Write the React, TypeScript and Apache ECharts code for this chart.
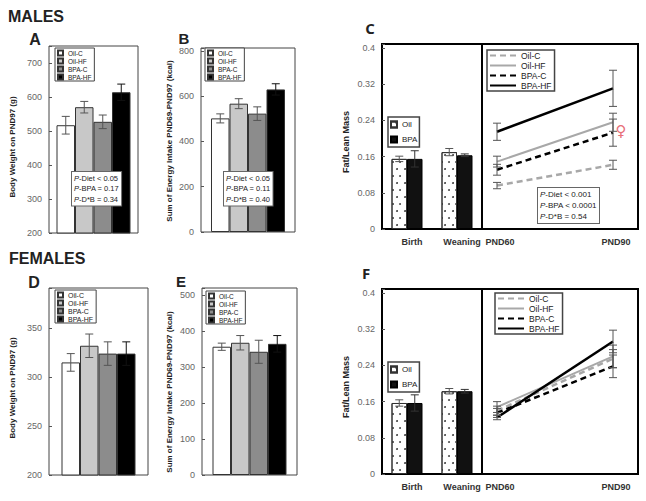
import React, { useEffect, useRef } from 'react';
import * as echarts from 'echarts';

const FONT = '"Liberation Sans", Arial, sans-serif';

// ---------- data ----------
const groups = ['Oil-C', 'Oil-HF', 'BPA-C', 'BPA-HF'];
const maleBodyWeight = [517, 570, 527, 614];
const maleBodyWeightErr = [26, 17, 20, 24];
const maleEnergy = [502, 567, 523, 630];
const maleEnergyErr = [20, 22, 30, 25];
const femaleBodyWeight = [315, 332, 324, 324];
const femaleBodyWeightErr = [9, 12, 12, 12];
const femaleEnergy = [356, 367, 342, 364];
const femaleEnergyErr = [10, 20, 32, 23];

const earlyAges = ['Birth', 'Weaning'];
const lateAges = ['PND60', 'PND90'];
const treatments = ['Oil', 'BPA'];

const maleOilEarly = [0.155, 0.17];
const maleOilEarlyErr = [0.006, 0.008];
const maleBpaEarly = [0.155, 0.163];
const maleBpaEarlyErr = [0.018, 0.003];
const femaleOilEarly = [0.157, 0.183];
const femaleOilEarlyErr = [0.007, 0.006];
const femaleBpaEarly = [0.157, 0.183];
const femaleBpaEarlyErr = [0.018, 0.004];

const maleOilC = [0.096, 0.142];
const maleOilCErr = [0.007, 0.01];
const maleOilHF = [0.149, 0.236];
const maleOilHFErr = [0.012, 0.02];
const maleBpaC = [0.131, 0.213];
const maleBpaCErr = [0.012, 0.03];
const maleBpaHF = [0.215, 0.311];
const maleBpaHFErr = [0.019, 0.04];

const femaleOilC = [0.14, 0.255];
const femaleOilCErr = [0.01, 0.02];
const femaleOilHF = [0.148, 0.26];
const femaleOilHFErr = [0.012, 0.025];
const femaleBpaC = [0.135, 0.238];
const femaleBpaCErr = [0.01, 0.025];
const femaleBpaHF = [0.125, 0.293];
const femaleBpaHFErr = [0.005, 0.025];

const statsA = ['-Diet < 0.05', '-BPA = 0.17', '-D*B = 0.34'];
const statsB = ['-Diet < 0.05', '-BPA = 0.11', '-D*B = 0.40'];
const statsC = ['-Diet < 0.001', '-BPA < 0.0001', '-D*B = 0.54'];

const lineNames = groups.map((g) => 'L-' + g);

// ---------- styles ----------
const barColors = ['#ffffff', '#c8c8c8', '#8c8c8c', '#000000'];
const lineStyles = [
  { color: '#a8a8a8', type: [6, 4], width: 2.5 },
  { color: '#a8a8a8', type: 'solid', width: 2 },
  { color: '#000000', type: [6, 4], width: 2.5 },
  { color: '#000000', type: 'solid', width: 2.5 },
];

function errSeries(gi: number, data: number[][], n: number, bw: number, colors: string[], cap = 4) {
  return {
    type: 'custom',
    xAxisIndex: gi,
    yAxisIndex: gi,
    z: 10,
    silent: true,
    data,
    encode: { x: 0, y: 1 },
    renderItem: (_p: any, api: any) => {
      const c = api.value(0);
      const v = api.value(1);
      const e = api.value(2);
      const k = api.value(3);
      const t = api.coord([c, v + e]);
      const b = api.coord([c, v - e]);
      const x = t[0] + (k - (n - 1) / 2) * bw;
      const st = { stroke: colors[k] || colors[0], lineWidth: 1 };
      return {
        type: 'group',
        children: [
          { type: 'line', shape: { x1: x, y1: t[1], x2: x, y2: b[1] }, style: st },
          { type: 'line', shape: { x1: x - cap, y1: t[1], x2: x + cap, y2: t[1] }, style: st },
          { type: 'line', shape: { x1: x - cap, y1: b[1], x2: x + cap, y2: b[1] }, style: st },
        ],
      };
    },
  };
}

function groupBars(gi: number, vals: number[], errs: number[]) {
  const bw = 18.5;
  const bars = groups.map((g, k) => ({
    type: 'bar',
    name: g,
    xAxisIndex: gi,
    yAxisIndex: gi,
    data: [vals[k]],
    barWidth: bw,
    barGap: '0%',
    itemStyle: { color: barColors[k], borderColor: '#333', borderWidth: 1 },
  }));
  return [...bars, errSeries(gi, vals.map((v, k) => [0, v, errs[k], k]), 4, bw, ['#555', '#555', '#555', '#111'])];
}

const oilDecal = {
  symbol: 'circle',
  symbolSize: 0.9,
  color: '#333',
  dashArrayX: [[1.5, 5], [0, 3.25, 1.5, 1.75]],
  dashArrayY: [1.5, 4.5],
};

function earlyBars(gi: number, oil: number[], oilErr: number[], bpa: number[], bpaErr: number[]) {
  const bw = 15.5;
  return [
    {
      type: 'bar', name: 'Oil', xAxisIndex: gi, yAxisIndex: gi, data: oil, barWidth: bw, barGap: '0%',
      itemStyle: { color: '#ffffff', borderColor: '#333', borderWidth: 1, decal: oilDecal },
    },
    {
      type: 'bar', name: 'BPA', xAxisIndex: gi, yAxisIndex: gi, data: bpa, barWidth: bw, barGap: '0%',
      itemStyle: { color: '#111111', borderColor: '#000', borderWidth: 1 },
    },
    errSeries(gi, [...oil.map((v, i) => [i, v, oilErr[i], 0]), ...bpa.map((v, i) => [i, v, bpaErr[i], 1])], 2, bw, ['#555', '#333']),
  ];
}

function lateLines(gi: number, sets: number[][], errs: number[][]) {
  const lines = sets.map((d, k) => ({
    type: 'line', name: lineNames[k], xAxisIndex: gi, yAxisIndex: gi, data: d,
    symbol: 'none', lineStyle: lineStyles[k], itemStyle: { color: lineStyles[k].color }, z: 5,
  }));
  const errData: number[][] = [];
  sets.forEach((d, k) => d.forEach((v, i) => errData.push([i, v, errs[k][i], 0])));
  return [...lines, errSeries(gi, errData, 1, 0, ['#555'])];
}

function grid(left: number, top: number, width: number, height: number, border: 'thin' | 'thick' | 'none') {
  return {
    left, top, width, height,
    show: border !== 'none',
    borderColor: border === 'thick' ? '#000' : '#444',
    borderWidth: border === 'thick' ? 2 : 1,
    containLabel: false,
    outerBoundsMode: 'none',
  };
}

function yAxis(gi: number, min: number, max: number, step: number, show = true) {
  return {
    gridIndex: gi, type: 'value', min, max, interval: step, show,
    axisLine: { show: false },
    axisTick: { show: true, inside: true, length: 3, lineStyle: { color: '#555' } },
    splitLine: { show: false },
    axisLabel: {
      fontSize: 9, color: '#666', fontFamily: FONT, margin: 7,
      formatter: (v: number) => {
        const r = v / step;
        return Math.abs(r - Math.round(r)) < 1e-6 ? String(+v.toFixed(3)) : '';
      },
    },
  };
}

function xHidden(gi: number) {
  return { gridIndex: gi, type: 'category', data: [''], show: false };
}

function xCat(gi: number, data: string[], boundaryGap: boolean, pad: number[]) {
  return {
    gridIndex: gi, type: 'category', data, boundaryGap,
    axisLine: { show: false }, axisTick: { show: false },
    axisLabel: { fontSize: 9, fontWeight: 'bold', color: '#333', fontFamily: FONT, margin: 8, padding: pad },
  };
}

function smallLegend(left: number, top: number, fs: number) {
  return {
    type: 'plain', left, top, orient: 'vertical', data: groups, selectedMode: false,
    icon: 'rect', itemWidth: 5, itemHeight: 5, itemGap: 0,
    padding: [1, 3, 0, 2], borderColor: '#444', borderWidth: 1, backgroundColor: '#fff',
    textStyle: { fontSize: fs, lineHeight: 8, color: '#222', fontFamily: FONT },
  };
}

function lineLegend(left: number, top: number) {
  return {
    type: 'plain', left, top, orient: 'vertical', data: lineNames, selectedMode: false,
    itemWidth: 26, itemHeight: 8, itemGap: 1,
    itemStyle: { opacity: 0 },
    padding: [1, 3, 1, 2], borderColor: '#444', borderWidth: 1.5, backgroundColor: '#fff',
    formatter: (n: string) => n.slice(2),
    textStyle: { fontSize: 8.5, lineHeight: 9, color: '#222', fontFamily: FONT },
  };
}

function treatLegend(left: number, top: number) {
  return {
    type: 'plain', left, top, orient: 'vertical', data: treatments, selectedMode: false,
    icon: 'rect', itemWidth: 6, itemHeight: 6, itemGap: 6,
    padding: [3, 2, 3, 2], borderColor: '#444', borderWidth: 1.5, backgroundColor: '#fff',
    textStyle: { fontSize: 8, lineHeight: 9, color: '#222', fontFamily: FONT },
  };
}

function txt(text: string, x: number, y: number, opts: any = {}) {
  return {
    type: 'text', x, y, rotation: opts.rotation || 0, z: 100,
    style: {
      text, fill: opts.fill || '#222', fontSize: opts.fontSize || 9, fontWeight: opts.fontWeight || 'normal',
      fontFamily: opts.fontFamily || FONT,
      textAlign: opts.align || 'center', align: opts.align || 'center',
      textVerticalAlign: 'middle', verticalAlign: 'middle',
    },
  };
}

function statBox(lines: string[], x: number, y: number, fs: number, lh: number) {
  return {
    type: 'text', x, y, z: 100,
    style: {
      text: lines.map((s) => `{i|P}{n|${s}}`).join('\n'),
      rich: {
        i: { fontStyle: 'italic', fontSize: fs, fontFamily: FONT, fill: '#222', lineHeight: lh },
        n: { fontSize: fs, fontFamily: FONT, fill: '#222', lineHeight: lh },
      },
      fontSize: fs, fontFamily: FONT, fill: '#222',
      textAlign: 'left', align: 'left', textVerticalAlign: 'top', verticalAlign: 'top',
      backgroundColor: '#fff', borderColor: '#666', borderWidth: 1, padding: [1, 2, 1, 2],
    },
  };
}

const R90 = Math.PI / 2;

export default function App() {
  const ref = useRef<HTMLDivElement>(null);
  useEffect(() => {
    if (!ref.current) return;
    const chart = echarts.init(ref.current, undefined, { renderer: 'svg' });
    const yMaxC = 0.409;
    const option: any = {
      animation: false,
      backgroundColor: '#fff',
      grid: [
        grid(49, 46, 89, 187, 'thin'),
        grid(201, 48, 94, 184, 'thin'),
        grid(382, 44, 100, 185, 'thick'),
        grid(482, 44, 156, 185, 'thick'),
        grid(497, 44, 116, 185, 'none'),
        grid(49, 288, 99, 187, 'thin'),
        grid(202, 288, 95, 187, 'thin'),
        grid(382, 289, 100, 185, 'thick'),
        grid(482, 289, 156, 185, 'thick'),
        grid(497, 289, 116, 185, 'none'),
      ],
      xAxis: [
        xHidden(0),
        xHidden(1),
        xCat(2, earlyAges, true, [0, 0, 0, 10]),
        xHidden(3),
        xCat(4, lateAges, false, [0, 0, 0, 6]),
        xHidden(5),
        xHidden(6),
        xCat(7, earlyAges, true, [0, 0, 0, 10]),
        xHidden(8),
        xCat(9, lateAges, false, [0, 0, 0, 6]),
      ],
      yAxis: [
        yAxis(0, 200, 750, 100),
        yAxis(1, 0, 813, 200),
        yAxis(2, 0, yMaxC, 0.08),
        yAxis(3, 0, 1, 1, false),
        yAxis(4, 0, yMaxC, 0.08, false),
        yAxis(5, 200, 391, 50),
        yAxis(6, 0, 519, 100),
        yAxis(7, 0, yMaxC, 0.08),
        yAxis(8, 0, 1, 1, false),
        yAxis(9, 0, yMaxC, 0.08, false),
      ],
      legend: [
        smallLegend(55, 48, 6.5),
        smallLegend(205, 48, 6.5),
        smallLegend(55, 290, 7),
        smallLegend(206, 291, 6.5),
        lineLegend(487, 50),
        lineLegend(495, 293),
        treatLegend(388, 117),
        treatLegend(388, 362),
      ],
      series: [
        ...groupBars(0, maleBodyWeight, maleBodyWeightErr),
        ...groupBars(1, maleEnergy, maleEnergyErr),
        ...earlyBars(2, maleOilEarly, maleOilEarlyErr, maleBpaEarly, maleBpaEarlyErr),
        ...lateLines(4, [maleOilC, maleOilHF, maleBpaC, maleBpaHF], [maleOilCErr, maleOilHFErr, maleBpaCErr, maleBpaHFErr]),
        ...groupBars(5, femaleBodyWeight, femaleBodyWeightErr),
        ...groupBars(6, femaleEnergy, femaleEnergyErr),
        ...earlyBars(7, femaleOilEarly, femaleOilEarlyErr, femaleBpaEarly, femaleBpaEarlyErr),
        ...lateLines(9, [femaleOilC, femaleOilHF, femaleBpaC, femaleBpaHF], [femaleOilCErr, femaleOilHFErr, femaleBpaCErr, femaleBpaHFErr]),
      ],
      graphic: [
        txt('MALES', 8, 16, { align: 'left', fontSize: 16, fontWeight: 'bold' }),
        txt('FEMALES', 9, 258, { align: 'left', fontSize: 16, fontWeight: 'bold' }),
        txt('A', 35, 39, { fontSize: 16, fontWeight: 'bold' }),
        txt('B', 184, 38, { fontSize: 15, fontWeight: 'bold' }),
        txt('C', 370, 28, { fontSize: 15, fontWeight: 'bold', fontFamily: '"Open Sans", sans-serif' }),
        txt('D', 34, 282, { fontSize: 16, fontWeight: 'bold' }),
        txt('E', 181, 281, { fontSize: 15, fontWeight: 'bold' }),
        txt('F', 366, 273, { fontSize: 15, fontWeight: 'bold', fontFamily: '"Open Sans", sans-serif' }),
        txt('Body Weight on PND97 (g)', 12, 147, { rotation: R90, fontSize: 8, fontWeight: 'bold' }),
        txt('Sum of Energy Intake PND69-PND97 (kcal)', 169, 141, { rotation: R90, fontSize: 8, fontWeight: 'bold' }),
        txt('Fat/Lean Mass', 346, 142, { rotation: R90, fontSize: 9, fontWeight: 'bold' }),
        txt('Body Weight on PND97 (g)', 12, 388, { rotation: R90, fontSize: 8, fontWeight: 'bold' }),
        txt('Sum of Energy Intake PND69-PND97 (kcal)', 169, 392, { rotation: R90, fontSize: 8, fontWeight: 'bold' }),
        txt('Fat/Lean Mass', 346, 387, { rotation: R90, fontSize: 9, fontWeight: 'bold' }),
        statBox(statsA, 72, 172, 7.5, 10.5),
        statBox(statsB, 224, 172, 7.5, 10.5),
        statBox(statsC, 538, 188, 8, 11),
        txt('\u2640', 621, 131, { fontSize: 15, fill: '#e8707a', fontFamily: '"DejaVu Sans", sans-serif' }),
      ],
    };
    chart.setOption(option);
    return () => chart.dispose();
  }, []);
  return (
    <div
      ref={ref}
      style={{ position: 'absolute', left: 0, top: 0, width: 646, height: 501, background: '#fff' }}
    />
  );
}
